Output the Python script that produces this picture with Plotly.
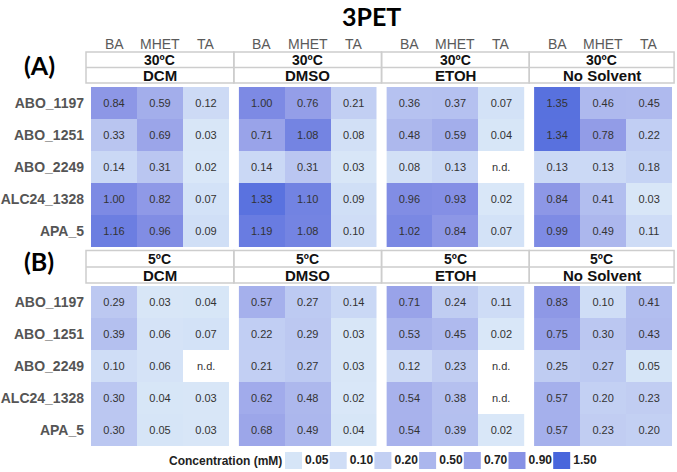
import plotly.graph_objects as go

# ---------------- data ----------------
chart_title = "3PET"
strains = ["ABO_1197", "ABO_1251", "ABO_2249", "ALC24_1328", "APA_5"]
compounds = ["BA", "MHET", "TA"]
solvents = ["DCM", "DMSO", "ETOH", "No Solvent"]
temps = ["30ºC", "5ºC"]
panel_tags = ["(A)", "(B)"]

# each list: [BA values, MHET values, TA values] over strains (None = n.d.)
dcm_30 = [[0.84, 0.33, 0.14, 1.00, 1.16], [0.59, 0.69, 0.31, 0.82, 0.96], [0.12, 0.03, 0.02, 0.07, 0.09]]
dmso_30 = [[1.00, 0.71, 0.14, 1.33, 1.19], [0.76, 1.08, 0.31, 1.10, 1.08], [0.21, 0.08, 0.03, 0.09, 0.10]]
etoh_30 = [[0.36, 0.48, 0.08, 0.96, 1.02], [0.37, 0.59, 0.13, 0.93, 0.84], [0.07, 0.04, None, 0.02, 0.07]]
nosolv_30 = [[1.35, 1.34, 0.13, 0.84, 0.99], [0.46, 0.78, 0.13, 0.41, 0.49], [0.45, 0.22, 0.18, 0.03, 0.11]]

dcm_5 = [[0.29, 0.39, 0.10, 0.30, 0.30], [0.03, 0.06, 0.06, 0.04, 0.05], [0.04, 0.07, None, 0.03, 0.03]]
dmso_5 = [[0.57, 0.22, 0.21, 0.62, 0.68], [0.27, 0.29, 0.27, 0.48, 0.49], [0.14, 0.03, 0.03, 0.02, 0.04]]
etoh_5 = [[0.71, 0.53, 0.12, 0.54, 0.54], [0.24, 0.45, 0.23, 0.38, 0.39], [0.11, 0.02, None, None, 0.02]]
nosolv_5 = [[0.83, 0.75, 0.25, 0.57, 0.57], [0.10, 0.30, 0.27, 0.20, 0.23], [0.41, 0.43, 0.05, 0.23, 0.20]]

legend_title = "Concentration (mM)"
legend_values = [0.05, 0.10, 0.20, 0.50, 0.70, 0.90, 1.50]
legend_colors = ["#d6e5f7", "#cfddf6", "#c3d0f3", "#abb6ed", "#9aa4e9", "#8791e5", "#4866dc"]
zero_color = "#dbe8f8"
nd_label = "n.d."

# ---------------- styling / layout ----------------
W, H = 677, 472
ZMAX = 1.5
colorscale = [[0.0, zero_color]] + [[v / ZMAX, c] for v, c in zip(legend_values, legend_colors)]

panel_x0 = [91, 238.7, 386.4, 534.1]
panel_w = 138
row_y = [(87, 247), (286, 446)]              # pixel top/bottom of heatmap blocks
hdr_y = [(52, 67.5, 83), (250.5, 267, 283)]  # header box lines
colhdr_y = 44

def px_x(x):
    return x / W

def px_y(y):
    return 1 - y / H

FONT = "Liberation Sans, Arial, sans-serif"
TITLE_FONT = "Lato, Open Sans, sans-serif"

grid = [[dcm_30, dmso_30, etoh_30, nosolv_30], [dcm_5, dmso_5, etoh_5, nosolv_5]]

fig = go.Figure()
annotations = []
shapes = []
layout_axes = {}

def paper_note(xpx, ypx, text, font, xanchor="center", yanchor="middle"):
    return dict(x=px_x(xpx), y=px_y(ypx), xref="paper", yref="paper", text=text,
                showarrow=False, xanchor=xanchor, yanchor=yanchor, font=font,
                borderpad=0)

k = 0
for r in range(2):
    for c in range(4):
        k += 1
        data = grid[r][c]
        z = [[data[j][i] for j in range(3)] for i in range(len(strains))]
        txt = [["" if v is None else f"{v:.2f}" for v in row] for row in z]
        xa = "x" if k == 1 else f"x{k}"
        ya = "y" if k == 1 else f"y{k}"
        fig.add_trace(go.Heatmap(
            z=z, x=compounds, y=strains, text=txt, texttemplate="%{text}",
            textfont=dict(family=FONT, size=11, color="#333333"),
            colorscale=colorscale, zmin=0, zmax=ZMAX, showscale=False,
            xaxis=xa, yaxis=ya, hoverinfo="skip", xgap=0, ygap=0,
        ))
        # n.d. labels
        for i, s in enumerate(strains):
            for j, cp in enumerate(compounds):
                if z[i][j] is None:
                    annotations.append(dict(x=cp, y=s, xref=xa, yref=ya, text=nd_label,
                                            showarrow=False, xanchor="center", yanchor="middle",
                                            font=dict(family=FONT, size=11, color="#333333")))
        x0 = panel_x0[c]
        layout_axes["xaxis" if k == 1 else f"xaxis{k}"] = dict(
            domain=[px_x(x0), px_x(x0 + panel_w)], anchor=ya, type="category",
            showticklabels=False, showgrid=False, zeroline=False, showline=False,
            ticks="", fixedrange=True)
        layout_axes["yaxis" if k == 1 else f"yaxis{k}"] = dict(
            domain=[px_y(row_y[r][1]), px_y(row_y[r][0])], anchor=xa, type="category",
            categoryorder="array", categoryarray=strains, autorange="reversed",
            showticklabels=(c == 0), showgrid=False, zeroline=False, showline=False,
            ticks="", ticklabelstandoff=6, fixedrange=True,
            tickfont=dict(family=FONT, size=14, color="#555555", weight="bold"))
        # column headers (only panel A)
        if r == 0:
            for cp in compounds:
                annotations.append(dict(x=cp, xref=xa, y=px_y(colhdr_y), yref="paper",
                                        text=cp, showarrow=False, xanchor="center", yanchor="middle",
                                        borderpad=0,
                                        font=dict(family=FONT, size=14, color="#5a5a5a")))
        # header box
        left = panel_x0[c] - 5 if c == 0 else (panel_x0[c] + panel_x0[c - 1] + panel_w) / 2
        right = panel_x0[c] + panel_w + 2 if c == 3 else (panel_x0[c] + panel_w + panel_x0[c + 1]) / 2
        t, m, b = hdr_y[r]
        line = dict(color="#cdcdcd", width=1.5)
        shapes.append(dict(type="rect", xref="paper", yref="paper",
                           x0=px_x(left), x1=px_x(right), y0=px_y(b), y1=px_y(t), line=line))
        shapes.append(dict(type="line", xref="paper", yref="paper",
                           x0=px_x(left), x1=px_x(right), y0=px_y(m), y1=px_y(m), line=line))
        cx = (left + right) / 2
        annotations.append(paper_note(cx, (t + m) / 2 + 0.5, temps[r],
                                      dict(family=FONT, size=14, color="#111111", weight="bold")))
        annotations.append(paper_note(cx, (m + b) / 2 + 0.5, solvents[c],
                                      dict(family=FONT, size=15, color="#111111", weight="bold")))

# panel tags
for tag, yy in zip(panel_tags, [65, 261]):
    annotations.append(paper_note(39, yy, tag,
                                  dict(family=TITLE_FONT, size=25, color="#000000", weight="bold")))

# title
annotations.append(paper_note(371, 0, chart_title,
                              dict(family=TITLE_FONT, size=25, color="#000000", weight="bold"),
                              yanchor="top"))

# legend (key) on its own hidden axis
k += 1
step = 44.7
c0 = 293.5
fig.add_trace(go.Scatter(
    x=list(range(len(legend_values))), y=[0] * len(legend_values),
    mode="markers+text", text=[f"{v:.2f}" for v in legend_values], textposition="middle right",
    textfont=dict(family=FONT, size=12, color="#222222", weight="bold"),
    marker=dict(symbol="square", size=17, color=legend_colors, line=dict(width=0)),
    xaxis=f"x{k}", yaxis=f"y{k}", hoverinfo="skip", showlegend=False, cliponaxis=False,
))
layout_axes[f"xaxis{k}"] = dict(domain=[px_x(c0 - step / 2), px_x(c0 - step / 2 + step * 7)],
                                range=[-0.5, 6.5], anchor=f"y{k}", visible=False, fixedrange=True)
layout_axes[f"yaxis{k}"] = dict(domain=[px_y(470), px_y(451)], range=[-1, 1], anchor=f"x{k}",
                                visible=False, fixedrange=True)
annotations.append(paper_note(283, 461, legend_title,
                              dict(family=FONT, size=12, color="#222222", weight="bold"),
                              xanchor="right"))

fig.update_layout(
    width=W, height=H, margin=dict(l=0, r=0, t=0, b=0),
    paper_bgcolor="white", plot_bgcolor="white", showlegend=False,
    annotations=annotations, shapes=shapes, **layout_axes,
)
fig.write_html("out.html")
